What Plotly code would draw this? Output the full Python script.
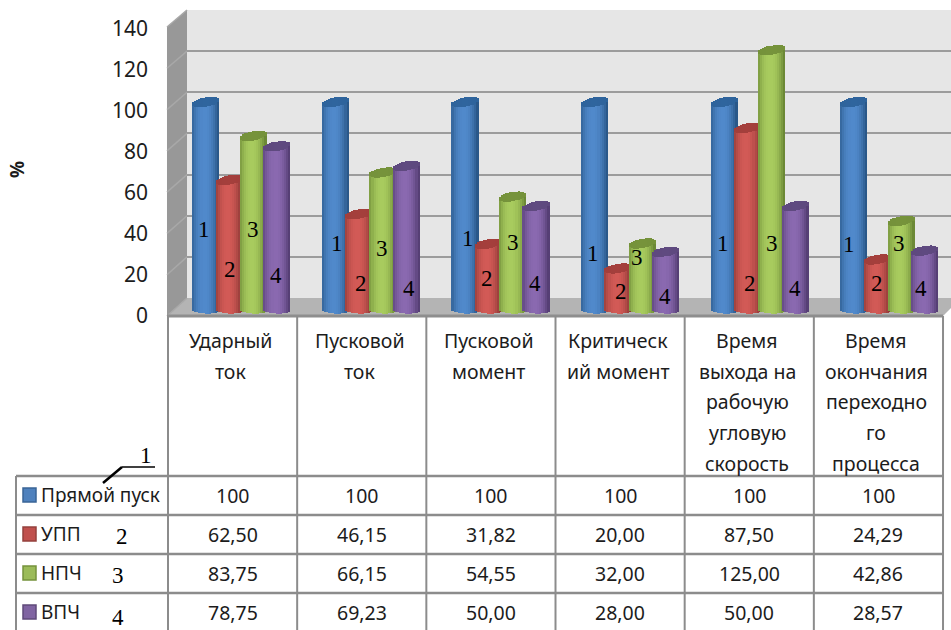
import math
import plotly.graph_objects as go

W, H = 951, 630

# ---- data ----
categories = [
    ["Ударный", "ток"],
    ["Пусковой", "ток"],
    ["Пусковой", "момент"],
    ["Критическ", "ий момент"],
    ["Время", "выхода на", "рабочую", "угловую", "скорость"],
    ["Время", "окончания", "переходно", "го", "процесса"],
]
series_names = ["Прямой пуск", "УПП", "НПЧ", "ВПЧ"]
direct_start = [100, 100, 100, 100, 100, 100]
upp = [62.50, 46.15, 31.82, 20.00, 87.50, 24.29]
npch = [83.75, 66.15, 54.55, 32.00, 125.00, 42.86]
vpch = [78.75, 69.23, 50.00, 28.00, 50.00, 28.57]
y_ticks = [0, 20, 40, 60, 80, 100, 120, 140]

# ---- palette: (lit centre, shaded edge, cap, swatch, swatch border) ----
palette = [
    ("#5089cb", "#2a5889", "#2f659e", "#4f81bd", "#3a6496"),
    ("#d25a56", "#8c3835", "#a53f3c", "#c0504d", "#94403d"),
    ("#a8cb5e", "#6c8936", "#76933b", "#9bbb59", "#76923c"),
    ("#8a69b0", "#563f75", "#5f4a80", "#8064a2", "#5f497a"),
]
GRID = "#9c9c9c"
TABLE = "#8c8c8c"
SANS = "Noto Sans"
SERIF = "Liberation Serif"
TEXT = "#1c1c1c"


def fx(px):
    return px / W


def fy(py):
    return 1 - py / H


def mix(a, b, t):
    ca = [int(a[i:i + 2], 16) for i in (1, 3, 5)]
    cb = [int(b[i:i + 2], 16) for i in (1, 3, 5)]
    return "rgb(%d,%d,%d)" % tuple(round(p + (q - p) * t) for p, q in zip(ca, cb))


def fmt(v):
    return f"{v:.2f}".replace(".", ",")


fig = go.Figure()

# Invisible carriers so the front axis and the back wall axis are both drawn.
for yax, xax in (("y", "x"), ("y2", "x2")):
    fig.add_trace(go.Scatter(x=[0], y=[0], xaxis=xax, yaxis=yax, mode="markers",
                             marker=dict(opacity=0), hoverinfo="skip", showlegend=False))

# ---- cylinders: each one is a stack of thin bars shaded across its width ----
values = [direct_start, upp, npch, vpch]
offsets = [-0.27, -0.09, 0.097, 0.278]
BAR_W = 0.206
STRIPS = 13
CAP_H = 2.1
TILT = 1.0
cat_x = list(range(len(categories)))
strip_w = BAR_W / STRIPS

for vals, off, (lit, edge, cap, _, _) in zip(values, offsets, palette):
    for k in range(STRIPS):
        t = (k + 0.5) / STRIPS * 2 - 1
        arc = math.sqrt(max(0.0, 1 - t * t))
        shade = min(1.0, abs(t + 0.1) ** 2.2)
        xs = [c + off + t * BAR_W / 2 for c in cat_x]
        bottom = -arc * CAP_H * 0.8 - TILT * 0.3 * t
        # body of the cylinder, rounded at the floor
        fig.add_trace(go.Bar(
            x=xs, y=[v - bottom for v in vals], base=[bottom] * len(vals),
            width=strip_w * 1.2, xaxis="x3", yaxis="y3",
            marker=dict(color=mix(lit, edge, shade), line=dict(width=0)),
            hoverinfo="skip", showlegend=False))
        # elliptical top, slightly tilted
        fig.add_trace(go.Bar(
            x=xs, y=[2 * arc * CAP_H + 0.3] * len(vals),
            base=[v + TILT * t - arc * CAP_H - 0.15 for v in vals],
            width=strip_w * 1.2, xaxis="x3", yaxis="y3",
            marker=dict(color=mix(cap, edge, 0.15 * abs(t)), line=dict(width=0)),
            hoverinfo="skip", showlegend=False))

# ---- chart box: walls and floor ----
shapes = []


def poly(points, fill, layer="below"):
    path = "M" + "L".join(f"{fx(a):.5f},{fy(b):.5f}" for a, b in points) + "Z"
    shapes.append(dict(type="path", xref="paper", yref="paper", path=path,
                       fillcolor=fill, line=dict(width=0), layer=layer))


def seg(x0, y0, x1, y1, color, width=2, layer="below"):
    shapes.append(dict(type="line", xref="paper", yref="paper",
                       x0=fx(x0), y0=fy(y0), x1=fx(x1), y1=fy(y1),
                       line=dict(color=color, width=width), layer=layer))


poly([(187, 10), (951, 10), (951, 298), (187, 298)], "#e6e6e6")
poly([(167, 27), (187, 10), (187, 298), (167, 316)], "#989898")
poly([(167, 316), (187, 298), (951, 298), (951, 308), (943, 316)], "#b4b4b4")

# gridline returns on the side wall
for tick in y_ticks:
    frac = tick / 140
    seg(167, 316 - frac * 289, 187, 298 - frac * 288, "#a8a8a8", 1.5)

# ---- table ----
col_edges = [168 + 129.17 * i for i in range(7)]
row_edges = [476, 515, 554, 593]
row_text_y = [495, 534, 573, 612]
col_centres = [(a + b) / 2 for a, b in zip(col_edges, col_edges[1:])]
line_y = [340, 371, 402, 432, 463]

seg(167, 316, 943, 316, "#8e8e8e", 3, "above")
for e in col_edges:
    seg(e, 316, e, 630, TABLE, 2, "above")
seg(16, 476, 16, 630, TABLE, 2, "above")
for r in row_edges:
    seg(16, r, 943, r, TABLE, 2.5, "above")

annotations = []


def text(px, py, s, size, family=SANS, color=TEXT, xanchor="center", angle=0):
    annotations.append(dict(x=fx(px), y=fy(py), xref="paper", yref="paper", text=s,
                            showarrow=False, xanchor=xanchor, yanchor="middle",
                            textangle=angle, font=dict(family=family, size=size, color=color)))


for centre, lines in zip(col_centres, categories):
    for py, line in zip(line_y, lines):
        text(centre - 2, py, line, 19.5)

rows = [[str(v) for v in direct_start], [fmt(v) for v in upp],
        [fmt(v) for v in npch], [fmt(v) for v in vpch]]
for row_y, row, name, pal in zip(row_text_y, rows, series_names, palette):
    text(39, row_y, name, 19, xanchor="left")
    shapes.append(dict(type="rect", xref="paper", yref="paper", layer="above",
                       x0=fx(23), x1=fx(36), y0=fy(row_y - 7), y1=fy(row_y + 7),
                       fillcolor=pal[3], line=dict(color=pal[4], width=1.5)))
    for centre, s in zip(col_centres, row):
        text(centre, row_y, s, 19.5)

# ---- series numbers on the bars and beside the table rows ----
bar_numbers = [
    [(204, 229), (230, 269), (253, 229), (276, 275)],
    [(337, 244), (361, 284), (382, 249), (409, 289)],
    [(468, 238), (487, 278), (513, 243), (535, 283)],
    [(593, 253), (621, 291), (637, 257), (665, 296)],
    [(723, 244), (750, 284), (772, 244), (795, 289)],
    [(849, 245), (877, 284), (899, 244), (921, 289)],
]
for group in bar_numbers:
    for n, (px, py) in enumerate(group, start=1):
        text(px, py, str(n), 23, SERIF, "#000000")

text(146, 455, "1", 23, SERIF, "#000000")
text(122, 536, "2", 23, SERIF, "#000000")
text(118, 575, "3", 23, SERIF, "#000000")
text(118, 617, "4", 23, SERIF, "#000000")
seg(103, 483, 122, 467, "#000000", 2.5, "above")
seg(122, 467, 155, 467, "#000000", 1.5, "above")

text(17, 170, "<b>%</b>", 19, angle=-90)

fig.update_layout(
    width=W, height=H, margin=dict(l=0, r=0, t=0, b=0),
    paper_bgcolor="white", plot_bgcolor="rgba(0,0,0,0)",
    barmode="overlay", bargap=0, showlegend=False,
    shapes=shapes, annotations=annotations,
    # front axis: carries the tick labels only
    xaxis=dict(domain=[fx(149), 1], range=[0, 1], visible=False, fixedrange=True, automargin=False),
    yaxis=dict(domain=[fy(316), fy(29)], range=[0, 140], tickvals=y_ticks, showgrid=False,
               zeroline=False, showline=False, ticks="", anchor="x", automargin=False,
               tickfont=dict(family=SANS, size=21, color=TEXT), fixedrange=True),
    # back wall: carries the gridlines
    xaxis2=dict(domain=[fx(187), 1], range=[0, 1], visible=False, fixedrange=True, automargin=False),
    yaxis2=dict(domain=[fy(298), fy(10)], range=[0, 140], tickvals=y_ticks, showgrid=True,
                gridcolor=GRID, gridwidth=2, zeroline=False, showline=False, automargin=False,
                showticklabels=False, ticks="", anchor="x2", fixedrange=True),
    # cylinder plane, halfway between the wall and the front edge
    xaxis3=dict(domain=[fx(176.2), fx(940.84)], range=[-0.5, 5.4], visible=False,
                fixedrange=True, automargin=False),
    yaxis3=dict(domain=[fy(330.8), fy(19)], range=[-10, 140], visible=False, anchor="x3",
                fixedrange=True, automargin=False),
)

fig.write_html("out.html")
